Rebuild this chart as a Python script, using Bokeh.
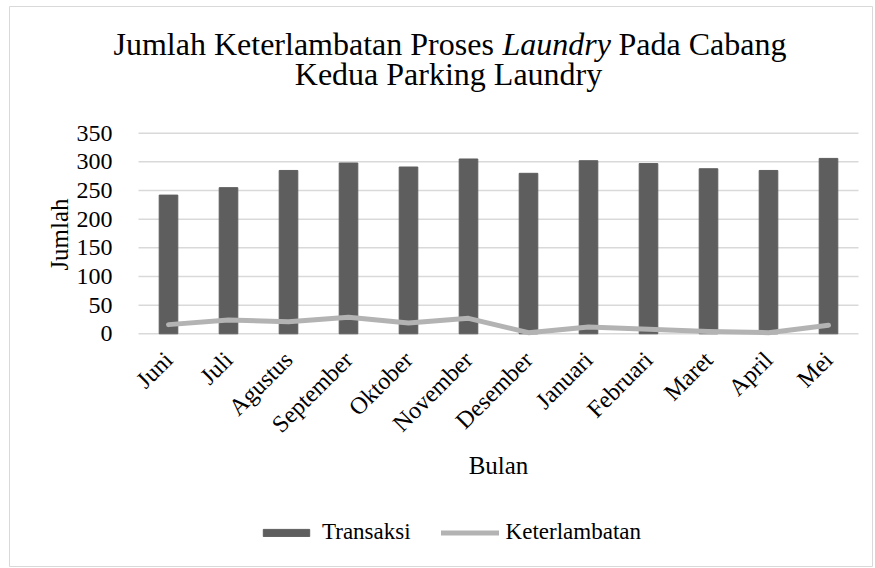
import math
from bokeh.plotting import figure
from bokeh.models import ColumnDataSource, Label, Legend, LegendItem, FixedTicker, Range1d
from bokeh.embed import file_html
from bokeh.resources import INLINE

# ---- data ----
bulan = ["Juni", "Juli", "Agustus", "September", "Oktober", "November",
         "Desember", "Januari", "Februari", "Maret", "April", "Mei"]
transaksi = [242, 255, 285, 298, 291, 305, 280, 302, 297, 288, 285, 306]
keterlambatan = [16, 24, 21, 29, 19, 27, 2, 12, 8, 4, 2, 15]
y_ticks = [0, 50, 100, 150, 200, 250, 300, 350]

title_line1_a = "Jumlah Keterlambatan Proses"
title_line1_b = "Laundry"
title_line1_c = "Pada Cabang"
title_line2 = "Kedua Parking Laundry"
x_title = "Bulan"
y_title = "Jumlah"

# ---- style / layout ----
FONT = "Liberation Serif"
BAR = "#5e5e5e"
LINE = "#b3b3b3"
GRID = "#d9d9d9"
W, H = 875, 568
F_LEFT, F_RIGHT, F_TOP, F_BOTTOM = 9, 872, 6, 566      # outer chart box (page px)
PLOT_LEFT, CAT_W = 138, 60                              # category area
Y0_PX, YMAX_PX = 333.3, 132.7                           # pixel rows of 0 and 350

idx = list(range(len(bulan)))
ymax = y_ticks[-1]
ppu = (Y0_PX - YMAX_PX) / ymax
c0 = PLOT_LEFT + CAT_W / 2
x_range = Range1d((F_LEFT - c0) / CAT_W, (F_RIGHT - c0) / CAT_W)
y_range = Range1d((Y0_PX - F_BOTTOM) / ppu, (Y0_PX - F_TOP) / ppu)

src = ColumnDataSource(dict(x=idx, bulan=bulan, transaksi=transaksi, keterlambatan=keterlambatan))

p = figure(x_range=x_range, y_range=y_range, width=W, height=H,
           output_backend="svg", toolbar_location=None,
           min_border_left=F_LEFT, min_border_right=W - F_RIGHT,
           min_border_top=F_TOP, min_border_bottom=H - F_BOTTOM)
p.outline_line_color = GRID
p.outline_line_width = 1
p.grid.visible = False

# gridlines only across the category area
p.segment(x0=[-0.5] * len(y_ticks), x1=[len(bulan) - 0.5] * len(y_ticks),
          y0=y_ticks, y1=y_ticks, line_color=GRID, line_width=1.5)

bars = p.vbar(x="x", top="transaksi", width=0.31, source=src,
              fill_color=BAR, line_color=BAR)
ln = p.line(x="x", y="keterlambatan", source=src, line_color=LINE,
            line_width=5, line_cap="round", line_join="round")

# axes
ya = p.yaxis[0]
ya.fixed_location = -0.5
ya.ticker = FixedTicker(ticks=y_ticks)
ya.axis_line_color = None
ya.major_tick_line_color = None
ya.minor_tick_line_color = None
ya.major_label_standoff = 20
ya.major_label_text_font = FONT
ya.major_label_text_font_size = "24px"
ya.major_label_text_color = "#000000"

xa = p.xaxis[0]
xa.fixed_location = 0
xa.ticker = FixedTicker(ticks=idx)
xa.major_label_overrides = {i: b for i, b in zip(idx, bulan)}
xa.axis_line_color = None
xa.major_tick_line_color = None
xa.minor_tick_line_color = None
xa.major_label_orientation = math.pi / 4
xa.major_label_standoff = 16
xa.major_label_text_font = FONT
xa.major_label_text_font_size = "24px"
xa.major_label_text_color = "#000000"

BASE_FIX = 0.4  # renderer places alphabetic baseline ~0.4em low

def lab(text, x, y, size, style="normal", align="left", angle=0.0):
    s = float(size.replace("px", ""))
    if angle == 0.0:
        y = y - BASE_FIX * s
    else:
        x = x - BASE_FIX * s
    p.add_layout(Label(x=x - F_LEFT, y=F_BOTTOM - y, x_units="screen", y_units="screen",
                       text=text, text_font=FONT, text_font_size=size,
                       text_font_style=style, text_align=align, angle=angle,
                       text_baseline="alphabetic", text_color="#000000"))

# title (page pixel positions of baselines)
lab(title_line1_a, 113, 56, "32px")
lab(title_line1_b, 502, 56, "32px", style="italic")
lab(title_line1_c, 618, 56, "32px")
lab(title_line2, 448, 86, "32px", align="center")
# axis titles
lab(y_title, 69, 234, "25px", align="center", angle=math.pi / 2)
lab(x_title, 498, 475, "25px", align="center")

legend = Legend(items=[LegendItem(label="Transaksi", renderers=[bars]),
                       LegendItem(label="Keterlambatan", renderers=[ln])],
                orientation="horizontal", location=(257 - F_LEFT, F_BOTTOM - 545),
                glyph_width=58, glyph_height=9, label_height=26, label_standoff=7,
                spacing=30, padding=0, margin=0, border_line_color=None,
                background_fill_alpha=0, label_text_font=FONT,
                label_text_font_size="23px", label_text_color="#000000")
p.add_layout(legend, "center")

open("out.html", "w").write(file_html(p, INLINE))
